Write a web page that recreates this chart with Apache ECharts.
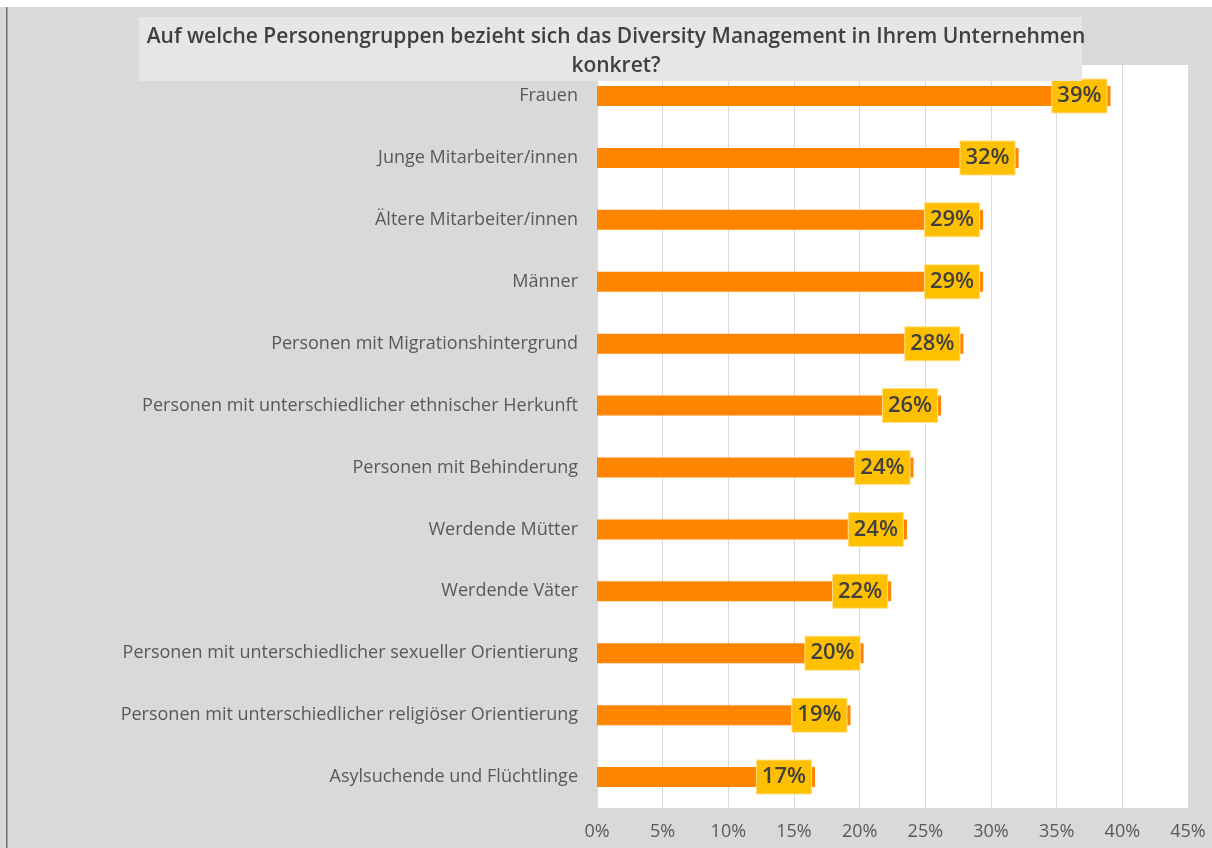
<!DOCTYPE html>
<html>
<head>
<meta charset="utf-8">
<script src="https://cdn.jsdelivr.net/npm/echarts@6/dist/echarts.min.js"></script>
<style>
  html, body { margin: 0; padding: 0; background: #fff; }
  #chart { width: 1212px; height: 848px; }
</style>
</head>
<body>
<div id="chart"></div>
<script>
const categories = [
  'Frauen',
  'Junge Mitarbeiter/innen',
  'Ältere Mitarbeiter/innen',
  'Männer',
  'Personen mit Migrationshintergrund',
  'Personen mit unterschiedlicher ethnischer Herkunft',
  'Personen mit Behinderung',
  'Werdende Mütter',
  'Werdende Väter',
  'Personen mit unterschiedlicher sexueller Orientierung',
  'Personen mit unterschiedlicher religiöser Orientierung',
  'Asylsuchende und Flüchtlinge'
]
const shares = [39.1, 32.1, 29.4, 29.4, 27.9, 26.2, 24.1, 23.6, 22.4, 20.3, 19.3, 16.6]
const titleText = 'Auf welche Personengruppen bezieht sich das Diversity Management in Ihrem Unternehmen\nkonkret?'

const fontFamily = '"Open Sans", "Noto Sans", sans-serif'

const chart = echarts.init(document.getElementById('chart'))

const option = {
  backgroundColor: '#d9d9d9',
  animation: false,
  title: {
    text: titleText,
    left: 611,
    top: 18,
    textAlign: 'center',
    textStyle: {
      fontFamily,
      fontSize: 21,
      fontWeight: 600,
      color: '#404040',
      lineHeight: 29
    },
    z: 20
  },
  graphic: [
    // white strip along the top edge
    { type: 'rect', shape: { x: 0, y: 0, width: 1212, height: 7 }, style: { fill: '#ffffff' }, z: 5 },
    // dark left border
    { type: 'rect', shape: { x: 6, y: 7, width: 1.5, height: 841 }, style: { fill: '#6b6f76' }, z: 5 },
    // title box
    { type: 'rect', shape: { x: 139, y: 17, width: 943, height: 64 }, style: { fill: '#e6e6e6' }, z: 10 }
  ],
  grid: {
    left: 597,
    right: 24,
    top: 65,
    bottom: 40,
    show: true,
    backgroundColor: '#ffffff',
    borderWidth: 0
  },
  xAxis: {
    type: 'value',
    min: 0,
    max: 45,
    interval: 5,
    axisLine: { show: false },
    axisTick: { show: false },
    splitLine: {
      lineStyle: { color: '#d9d9d9', width: 1 }
    },
    axisLabel: {
      formatter: '{value}%',
      fontFamily,
      fontSize: 18,
      color: '#595959',
      margin: 15
    }
  },
  yAxis: {
    type: 'category',
    inverse: true,
    data: categories,
    axisLine: { show: false },
    axisTick: { show: false },
    axisLabel: {
      fontFamily,
      fontSize: 18,
      color: '#595959',
      margin: 19
    }
  },
  series: [
    {
      type: 'bar',
      data: shares,
      barWidth: 20,
      itemStyle: { color: '#ff8400' },
      label: {
        show: true,
        position: 'insideRight',
        distance: 4,
        formatter: p => Math.round(p.value) + '%',
        fontFamily,
        fontSize: 22,
        fontWeight: 600,
        color: '#404040',
        backgroundColor: '#ffc000',
        borderColor: '#ffe08a',
        borderWidth: 1,
        padding: [6, 5, 5, 5]
      }
    }
  ]
}

chart.setOption(option)
</script>
</body>
</html>
